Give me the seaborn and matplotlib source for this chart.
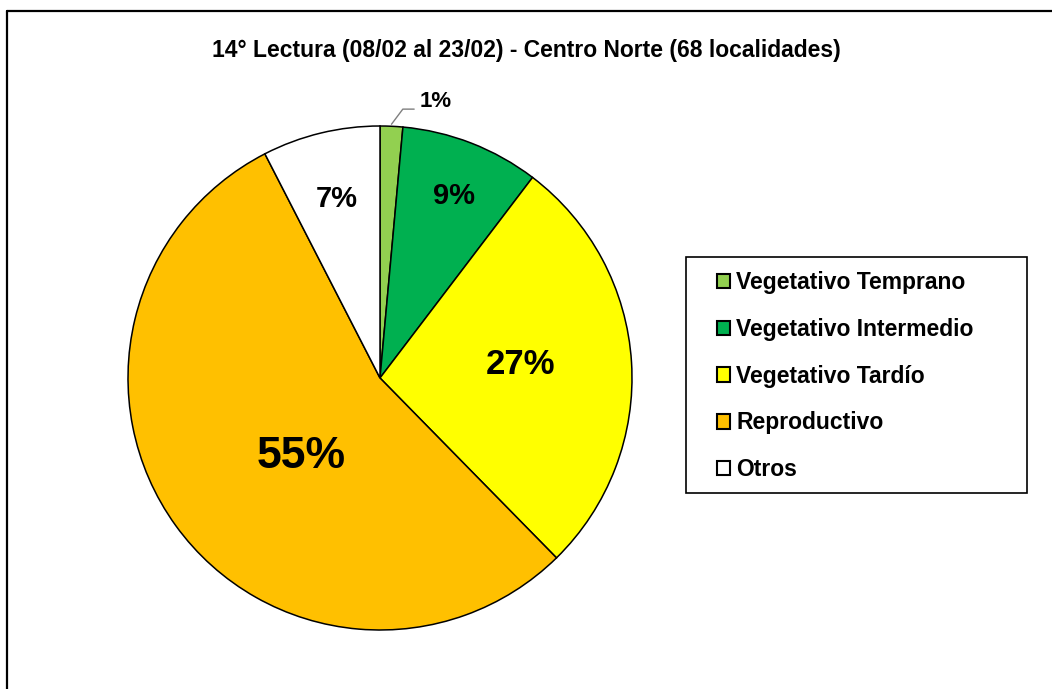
import numpy as np
import seaborn as sns
import matplotlib.pyplot as plt
from matplotlib.patches import Patch, Rectangle
from matplotlib.lines import Line2D

# Data
categories = ["Vegetativo Temprano", "Vegetativo Intermedio", "Vegetativo Tardío",
              "Reproductivo", "Otros"]
values = [1.45, 8.9, 27.3, 54.8, 7.55]
pct_labels = ["1%", "9%", "27%", "55%", "7%"]
colors = ["#92D050", "#00B050", "#FFFF00", "#FFC000", "#FFFFFF"]
title = "14° Lectura (08/02 al 23/02) - Centro Norte (68 localidades)"

sns.set_theme(style="white")
plt.rcParams['font.family'] = ['Liberation Sans', 'DejaVu Sans']
plt.rcParams['font.weight'] = 'bold'
plt.rcParams['text.color'] = 'black'

W, H = 1052, 689
fig = plt.figure(figsize=(W / 100, H / 100), dpi=100)
fig.patch.set_facecolor("white")

# pie axes: center (380, 378) px, radius 252 px
cx, cy, r = 380, 378, 252
ax = fig.add_axes([(cx - r) / W, (H - cy - r) / H, 2 * r / W, 2 * r / H])
palette = sns.color_palette(colors)
wedges, _ = ax.pie(values, colors=palette, startangle=90, counterclock=False,
                   wedgeprops=dict(edgecolor="black", linewidth=1.1))
ax.set_xlim(-1, 1)
ax.set_ylim(-1, 1)
ax.set_axis_off()

# Percentage labels inside slices (radius, angle shift in degrees)
radii = [None, 0.78, 0.56, 0.44, 0.73]
shifts = [0, -1, 2, 9, 0]
sizes = [16, 21, 25, 32, 21]
for w, lab, rad, sh, fs in zip(wedges, pct_labels, radii, shifts, sizes):
    mid = np.deg2rad((w.theta1 + w.theta2) / 2 + sh)
    x, y = np.cos(mid), np.sin(mid)
    if rad is None:
        # small slice: label outside with leader line
        p0 = (x, y + 0.008)
        p1 = (x + 0.045, y + 0.068)
        p2 = (p1[0] + 0.045, p1[1])
        ax.plot([p0[0], p1[0], p2[0]], [p0[1], p1[1], p2[1]],
                color="#7f7f7f", lw=1.0, clip_on=False)
        ax.text(p2[0] + 0.02, p2[1] + 0.03, lab, fontsize=fs, fontweight="bold",
                ha="left", va="center", clip_on=False)
    else:
        ax.text(x * rad, y * rad, lab, fontsize=fs, fontweight="bold",
                ha="center", va="center")

fig.text(0.5, 1 - 51 / H, title, ha="center", va="center",
         fontsize=16.5, fontweight="bold")

# legend box
fig.add_artist(Rectangle((686 / W, 1 - 493 / H), (1027 - 686) / W, (493 - 257) / H,
                         transform=fig.transFigure, facecolor="none",
                         edgecolor="black", linewidth=1.2))
handles = [Patch(facecolor=c, edgecolor="black", linewidth=1.5) for c in colors]
leg = fig.legend(handles, categories, loc="upper left",
                 bbox_to_anchor=(717 / W, 1 - 271 / H), bbox_transform=fig.transFigure,
                 borderaxespad=0, borderpad=0, frameon=False,
                 prop=dict(size=16.5, weight="bold"),
                 handlelength=0.58, handleheight=0.58, handletextpad=0.25,
                 labelspacing=1.04)

# outer chart border (left and top visible)
fig.add_artist(Line2D([7 / W, 7 / W], [0, 1 - 11 / H], color="black", lw=1.6,
                      transform=fig.transFigure))
fig.add_artist(Line2D([7 / W, 1], [1 - 11 / H, 1 - 11 / H], color="black", lw=1.6,
                      transform=fig.transFigure))

fig.savefig("out.png", dpi=100, facecolor="white")
